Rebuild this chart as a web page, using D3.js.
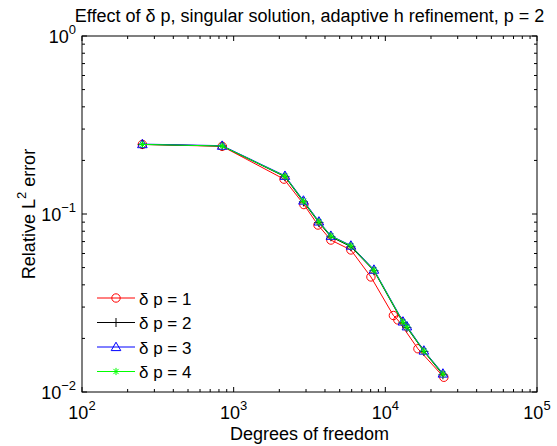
<!DOCTYPE html>
<html><head><meta charset="utf-8">
<script src="https://cdn.jsdelivr.net/npm/d3@7"></script>
<style>
body{margin:0;background:#fff;}
svg text{font-family:"Liberation Sans",Arial,Helvetica,sans-serif;fill:#000;}
</style></head>
<body><svg id="c" width="557" height="446"></svg>
<script>
// ---- data ----
const seriesNames = ["δ p = 1", "δ p = 2", "δ p = 3", "δ p = 4"];
const dof1 = [250, 840, 2148, 2904, 3597, 4375, 5929, 8035, 11300, 12100, 16400, 24320];
const err1 = [0.246, 0.240, 0.157, 0.113, 0.0867, 0.0714, 0.0628, 0.0443, 0.0269, 0.0254, 0.0175, 0.0121];
const dof2 = [250, 840, 2178, 2884, 3648, 4375, 5929, 8410, 13070, 13880, 17950, 23970];
const err2 = [0.246, 0.241, 0.162, 0.117, 0.0895, 0.0745, 0.0655, 0.0480, 0.0245, 0.0230, 0.0169, 0.0125];
const dof3 = [250, 840, 2178, 2884, 3648, 4375, 5929, 8410, 13070, 13880, 17950, 23970];
const err3 = [0.247, 0.242, 0.164, 0.119, 0.0908, 0.0755, 0.0665, 0.0487, 0.0249, 0.0234, 0.0171, 0.0127];
const dof4 = [250, 840, 2178, 2884, 3648, 4375, 5929, 8410, 13070, 13880, 17950, 23970];
const err4 = [0.246, 0.241, 0.163, 0.118, 0.0902, 0.0752, 0.0661, 0.0484, 0.0247, 0.0232, 0.0170, 0.0126];
const xTickExps = [2, 3, 4, 5];
const yTickExps = [-2, -1, 0];
const titleText = "Effect of δ p, singular solution, adaptive h refinement, p = 2";
const xLabelText = "Degrees of freedom";

// ---- layout ----
const L = 82, R = 537, T = 36, B = 392;
const svg = d3.select("#c");
const x = d3.scaleLog().domain([1e2, 1e5]).range([L, R]);
const y = d3.scaleLog().domain([1e-2, 1e0]).range([B, T]);
const FS = 18;

const series = [
  {name: seriesNames[0], dof: dof1, err: err1, color: "#ff0000", marker: "circle"},
  {name: seriesNames[1], dof: dof2, err: err2, color: "#000000", marker: "plus"},
  {name: seriesNames[2], dof: dof3, err: err3, color: "#0000ff", marker: "triangle"},
  {name: seriesNames[3], dof: dof4, err: err4, color: "#00ff00", marker: "star"}
];

function drawMarker(g, type, cx, cy, color) {
  if (type === "circle") {
    g.append("circle").attr("cx", cx).attr("cy", cy).attr("r", 4.2)
      .attr("fill", "none").attr("stroke", color).attr("stroke-width", 1);
  } else if (type === "plus") {
    g.append("path").attr("d", `M${cx-4.5},${cy}H${cx+4.5}M${cx},${cy-4.5}V${cy+4.5}`)
      .attr("stroke", color).attr("stroke-width", 1);
  } else if (type === "triangle") {
    const s = 4.8;
    g.append("path").attr("d", `M${cx},${cy-s}L${cx+s},${cy+s*0.75}L${cx-s},${cy+s*0.75}Z`)
      .attr("fill", "none").attr("stroke", color).attr("stroke-width", 1);
  } else if (type === "star") {
    const s = 3.6, d = 2.6;
    g.append("path").attr("d",
      `M${cx-s},${cy}H${cx+s}M${cx},${cy-s}V${cy+s}M${cx-d},${cy-d}L${cx+d},${cy+d}M${cx-d},${cy+d}L${cx+d},${cy-d}`)
      .attr("stroke", color).attr("stroke-width", 1);
  }
}

// ---- series ----
const line = d3.line().x(d => x(d[0])).y(d => y(d[1]));
series.forEach(s => {
  const pts = s.dof.map((v, i) => [v, s.err[i]]);
  const g = svg.append("g");
  g.append("path").attr("d", line(pts)).attr("fill", "none")
    .attr("stroke", s.color).attr("stroke-width", 1);
  pts.forEach(p => drawMarker(g, s.marker, x(p[0]), y(p[1]), s.color));
});

// ---- axes box and ticks ----
const ax = svg.append("g");
ax.append("rect").attr("x", L).attr("y", T).attr("width", R - L).attr("height", B - T)
  .attr("fill", "none").attr("stroke", "#000").attr("stroke-width", 1);

const majorLen = 5, minorLen = 3;
function minorTicks(scale) {
  const [a, b] = scale.domain();
  const out = [];
  for (let e = Math.round(Math.log10(a)); e < Math.round(Math.log10(b)); e++)
    for (let m = 2; m <= 9; m++) out.push(m * Math.pow(10, e));
  return out;
}
xTickExps.forEach(e => {
  const px = x(Math.pow(10, e));
  ax.append("path").attr("d", `M${px},${B}V${B-majorLen}M${px},${T}V${T+majorLen}`).attr("stroke", "#000");
});
minorTicks(x).forEach(v => {
  const px = x(v);
  ax.append("path").attr("d", `M${px},${B}V${B-minorLen}M${px},${T}V${T+minorLen}`).attr("stroke", "#000");
});
yTickExps.forEach(e => {
  const py = y(Math.pow(10, e));
  ax.append("path").attr("d", `M${L},${py}H${L+majorLen}M${R},${py}H${R-majorLen}`).attr("stroke", "#000");
});
minorTicks(y).forEach(v => {
  const py = y(v);
  ax.append("path").attr("d", `M${L},${py}H${L+minorLen}M${R},${py}H${R-minorLen}`).attr("stroke", "#000");
});

// tick labels
xTickExps.forEach(e => {
  const t = ax.append("text").attr("x", x(Math.pow(10, e))).attr("y", B + 27)
    .attr("text-anchor", "middle").attr("font-size", FS);
  t.append("tspan").text("10");
  t.append("tspan").attr("dy", -9).attr("font-size", 13).text(String(e));
});
yTickExps.forEach(e => {
  const t = ax.append("text").attr("x", L - 6).attr("y", y(Math.pow(10, e)) + 7)
    .attr("text-anchor", "end").attr("font-size", FS);
  t.append("tspan").text("10");
  t.append("tspan").attr("dy", -9).attr("font-size", 13).text(e < 0 ? "\u2212" + (-e) : String(e));
});

// title and labels
svg.append("text").attr("x", (L + R) / 2).attr("y", 22).attr("text-anchor", "middle")
  .attr("font-size", FS).text(titleText);
svg.append("text").attr("x", (L + R) / 2).attr("y", 440).attr("text-anchor", "middle")
  .attr("font-size", FS).text(xLabelText);
const yl = svg.append("text").attr("transform", `translate(35,${(T + B) / 2}) rotate(-90)`)
  .attr("text-anchor", "middle").attr("font-size", FS);
yl.append("tspan").text("Relative L");
yl.append("tspan").attr("dy", -9).attr("font-size", 13).text("2");
yl.append("tspan").attr("dy", 9).text(" error");

// legend
const lg = svg.append("g");
series.forEach((s, i) => {
  const ly = 298 + i * 24.5;
  lg.append("line").attr("x1", 97).attr("x2", 135).attr("y1", ly).attr("y2", ly)
    .attr("stroke", s.color).attr("stroke-width", 1);
  drawMarker(lg, s.marker, 116, ly, s.color);
  lg.append("text").attr("x", 139).attr("y", ly + 6.5).attr("font-size", 17).text(s.name);
});
</script></body></html>
